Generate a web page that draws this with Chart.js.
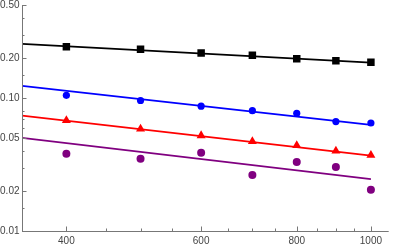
<!DOCTYPE html>
<html lang="en">
  <head>
    <meta charset="UTF-8" />
    <title>Log-log fits</title>
    <script src="https://cdn.jsdelivr.net/npm/chart.js@4.4.1/dist/chart.umd.min.js"></script>
    <style>
      body {
        margin: 0;
        background: white;
      }
      .chart-container {
        width: 394px;
        height: 245px;
      }
    </style>
  </head>
  <body>
    <div class="chart-container">
      <canvas id="fitChart"></canvas>
    </div>

    <script>
      // measured points
      const xValues = [400, 500, 600, 700, 800, 900, 1000];
      const blackSquares = [0.244, 0.233, 0.219, 0.21, 0.198, 0.191, 0.186];
      const blueCircles = [0.105, 0.096, 0.087, 0.0805, 0.077, 0.0666, 0.065];
      const redTriangles = [0.068, 0.0587, 0.0523, 0.0472, 0.044, 0.0401, 0.0372];
      const purpleCircles = [0.0381, 0.035, 0.0388, 0.0264, 0.033, 0.0303, 0.0204];

      // fitted lines (end points)
      const fitX = [350, 1000];
      const blackFit = [0.2566, 0.185];
      const blueFit = [0.1238, 0.063];
      const redFit = [0.0738, 0.0369];
      const purpleFit = [0.0502, 0.0246];

      // axis ticks
      const xTickLabels = [400, 600, 800, 1000];
      const xMinorTicks = [450, 500, 550, 650, 700, 750, 850, 900, 950];
      const yTickLabels = [0.01, 0.02, 0.05, 0.1, 0.2, 0.5];
      const yTickText = ["0.01", "0.02", "0.05", "0.10", "0.20", "0.50"];
      const yMinorTicks = [0.015, 0.03, 0.04, 0.06, 0.07, 0.08, 0.15, 0.3, 0.4];

      const pts = (ys) => xValues.map((x, i) => ({ x: x, y: ys[i] }));
      const fit = (ys) => fitX.map((x, i) => ({ x: x, y: ys[i] }));

      const scatter = (data, color, style, radius) => ({
        data: pts(data),
        showLine: false,
        pointStyle: style,
        pointRadius: radius,
        pointBackgroundColor: color,
        pointBorderColor: color,
        pointBorderWidth: 0,
      });
      const fitLine = (data, color) => ({
        data: fit(data),
        showLine: true,
        borderColor: color,
        borderWidth: 1.8,
        pointRadius: 0,
      });

      // hand-drawn axes, Mathematica style (ticks point inward)
      const axesPlugin = {
        id: "axes",
        afterDraw(chart) {
          const c = chart.ctx;
          const xs = chart.scales.x;
          const ys = chart.scales.y;
          const a = chart.chartArea;
          const x0 = a.left;
          const y0 = a.bottom;
          c.save();
          c.strokeStyle = "#777";
          c.lineWidth = 1;
          c.beginPath();
          c.moveTo(x0 + 0.5, a.top);
          c.lineTo(x0 + 0.5, y0 + 0.5);
          c.lineTo(a.right, y0 + 0.5);
          c.stroke();

          c.beginPath();
          xTickLabels.forEach((v) => {
            const px = Math.round(xs.getPixelForValue(v)) + 0.5;
            c.moveTo(px, y0);
            c.lineTo(px, y0 - 4.5);
          });
          xMinorTicks.forEach((v) => {
            const px = Math.round(xs.getPixelForValue(v)) + 0.5;
            c.moveTo(px, y0);
            c.lineTo(px, y0 - 2.5);
          });
          yTickLabels.forEach((v) => {
            const py = Math.round(ys.getPixelForValue(v)) + 0.5;
            c.moveTo(x0, py);
            c.lineTo(x0 + 4.5, py);
          });
          yMinorTicks.forEach((v) => {
            const py = Math.round(ys.getPixelForValue(v)) + 0.5;
            c.moveTo(x0, py);
            c.lineTo(x0 + 2.5, py);
          });
          c.stroke();

          c.fillStyle = "#444";
          c.font = "10px 'Liberation Sans', Arial, sans-serif";
          c.textAlign = "center";
          c.textBaseline = "alphabetic";
          xTickLabels.forEach((v) => {
            c.fillText(String(v), xs.getPixelForValue(v), y0 + 13);
          });
          c.textAlign = "right";
          c.textBaseline = "middle";
          yTickLabels.forEach((v, i) => {
            c.fillText(yTickText[i], x0 - 2.5, ys.getPixelForValue(v));
          });
          c.restore();
        },
      };

      const ctx = document.getElementById("fitChart").getContext("2d");
      const chart = new Chart(ctx, {
        type: "scatter",
        data: {
          datasets: [
            scatter(blackSquares, "#000000", "rect", 5.3),
            scatter(blueCircles, "#0000ff", "circle", 3.6),
            scatter(redTriangles, "#ff0000", "triangle", 5.2),
            scatter(purpleCircles, "#800080", "circle", 4),
            fitLine(blackFit, "#000000"),
            fitLine(blueFit, "#0000ff"),
            fitLine(redFit, "#ff0000"),
            fitLine(purpleFit, "#800080"),
          ],
        },
        options: {
          responsive: true,
          maintainAspectRatio: false,
          animation: false,
          layout: {
            padding: { left: 22, right: 0, top: 4, bottom: 14 },
          },
          plugins: {
            legend: { display: false },
            tooltip: { enabled: false },
          },
          scales: {
            x: {
              type: "logarithmic",
              display: false,
              min: 350,
              max: 1055,
            },
            y: {
              type: "logarithmic",
              display: false,
              min: 0.01,
              max: 0.5,
            },
          },
        },
        plugins: [axesPlugin],
      });
    </script>
  </body>
</html>
